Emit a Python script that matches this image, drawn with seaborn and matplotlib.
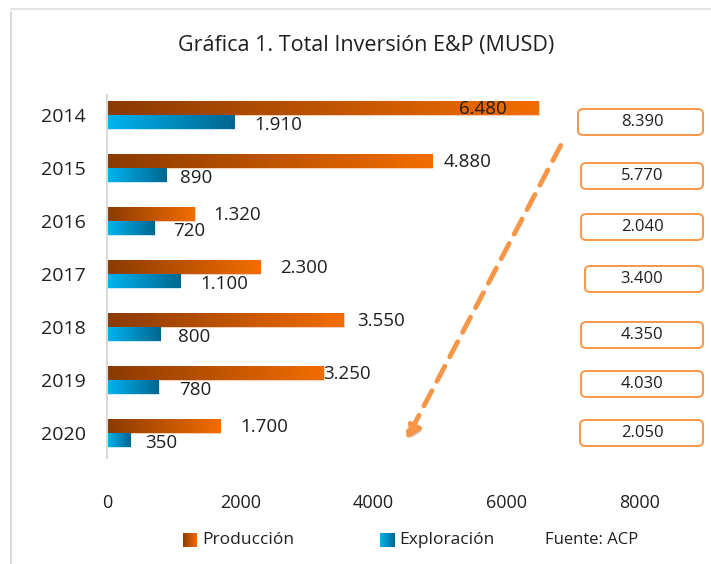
import numpy as np
import pandas as pd
import seaborn as sns
import matplotlib.pyplot as plt
from matplotlib.colors import LinearSegmentedColormap
from matplotlib.patches import FancyBboxPatch
import matplotlib.patheffects as pe

years = ['2014', '2015', '2016', '2017', '2018', '2019', '2020']
produccion = [6480, 4880, 1320, 2300, 3550, 3250, 1700]
exploracion = [1910, 890, 720, 1100, 800, 780, 350]
totales = ['8.390', '5.770', '2.040', '3.400', '4.350', '4.030', '2.050']
prod_labels = ['6.480', '4.880', '1.320', '2.300', '3.550', '3.250', '1.700']
expl_labels = ['1.910', '890', '720', '1.100', '800', '780', '350']

# label offsets (data units) from bar end
prod_off = [-1200, 180, 280, 300, 200, 0, 300]
expl_off = [300, 200, 280, 300, 270, 300, 220]

df = pd.DataFrame({
    'year': years * 2,
    'value': produccion + exploracion,
    'serie': ['Producción'] * 7 + ['Exploración'] * 7,
})

sns.set_style('white')
plt.rcParams['font.family'] = ['Open Sans', 'DejaVu Sans']
txt = '#1f1f1f'

W, H = 711, 564
fig = plt.figure(figsize=(W / 100, H / 100), dpi=100)

def fx(px):
    return px / W

def fy(py):
    return 1 - py / H

ax = fig.add_axes([fx(107), fy(458), fx(640) - fx(107), fy(95) - fy(458)])
sns.barplot(data=df, y='year', x='value', hue='serie', orient='h',
            hue_order=['Producción', 'Exploración'], width=0.53,
            palette=['#C55A11', '#00A0D8'], legend=False, ax=ax)

cm_prod = LinearSegmentedColormap.from_list('p', ['#8A3A03', '#F26D00'])
cm_expl = LinearSegmentedColormap.from_list('e', ['#00B4F2', '#00678F'])
grad = np.linspace(0, 1, 256).reshape(1, -1)
for cont, cmap in zip(ax.containers, [cm_prod, cm_expl]):
    for bar in cont:
        x0, y0 = bar.get_x(), bar.get_y()
        w, h = bar.get_width(), bar.get_height()
        bar.set_facecolor('none')
        bar.set_edgecolor('#f3c9a8' if cmap is cm_prod else '#bfe6f5')
        bar.set_linewidth(0.6)
        im = ax.imshow(grad, cmap=cmap, aspect='auto', extent=[x0, x0 + w, y0 + h, y0],
                       zorder=2)
        im.set_clip_path(bar)

ax.set_xlim(0, 8000)
ax.set_ylim(6.47, -0.377)
ax.set_xticks([0, 2000, 4000, 6000, 8000])
ax.set_xticklabels(['0', '2000', '4000', '6000', '8000'])
ax.set_xlabel('')
ax.set_ylabel('')
for s in ['top', 'right', 'bottom']:
    ax.spines[s].set_visible(False)
ax.spines['left'].set_color('#d9d9d9')
ax.spines['left'].set_linewidth(1.5)
ax.tick_params(axis='x', length=0, pad=26, labelsize=13, labelcolor=txt)
ax.tick_params(axis='y', length=0, pad=15, labelsize=14, labelcolor=txt)
ax.set_facecolor('none')

for i in range(len(years)):
    ax.text(produccion[i] + prod_off[i], i - 0.12, prod_labels[i], fontsize=13.5,
            color=txt, va='center', ha='left', zorder=5)
    ax.text(exploracion[i] + expl_off[i], i + 0.18, expl_labels[i], fontsize=13.5,
            color=txt, va='center', ha='left', zorder=5)

# title
fig.text(fx(366), fy(46), 'Gráfica 1. Total Inversión E&P (MUSD)', fontsize=15.5,
         ha='center', va='center', color=txt)

# total boxes
box_y = [122, 176, 227, 279, 335, 384, 433]
box_x = [578, 581, 581, 585, 581, 581, 580]
for t, yc, bx in zip(totales, box_y, box_x):
    fig.patches.append(FancyBboxPatch((fx(bx), fy(yc + 13)), fx(703) - fx(bx),
                                      fy(yc - 13) - fy(yc + 13),
                                      boxstyle='round,pad=0,rounding_size=0.008',
                                      transform=fig.transFigure, facecolor='white',
                                      edgecolor='#F79646', linewidth=1.4))
    fig.text(fx(642), fy(yc), t, fontsize=12, ha='center', va='center', color=txt)

# dashed arrow
arr = ax.annotate('', xy=(fx(405), fy(442)), xytext=(fx(562), fy(143)),
                  xycoords='figure fraction', textcoords='figure fraction',
                  arrowprops=dict(arrowstyle='-|>,head_length=0.8,head_width=0.45',
                                  color='#F79646', lw=3.5, linestyle=(0, (3.5, 2.2)),
                                  path_effects=[pe.withSimplePatchShadow(offset=(2, -2),
                                                                         alpha=0.25)]))
arr.set_annotation_clip(False)

# legend
for lx, cmap, label in [(183, cm_prod, 'Producción'), (380, cm_expl, 'Exploración')]:
    lax = fig.add_axes([fx(lx), fy(547), fx(14), fy(533) - fy(547)])
    lax.imshow(grad, cmap=cmap, aspect='auto')
    lax.axis('off')
    fig.text(fx(lx + 19), fy(540), label, fontsize=12.5, ha='left', va='center', color=txt)
fig.text(fx(545), fy(540), 'Fuente: ACP', fontsize=12, ha='left', va='center', color=txt)

# frame lines
fig.add_artist(plt.Line2D([fx(11), fx(11)], [fy(12), 0], transform=fig.transFigure,
                          color='#d9d9d9', lw=1.5))
fig.add_artist(plt.Line2D([fx(11), 1], [fy(9), fy(9)], transform=fig.transFigure,
                          color='#e3e3e3', lw=1.5))

fig.savefig('out.png', dpi=100)
